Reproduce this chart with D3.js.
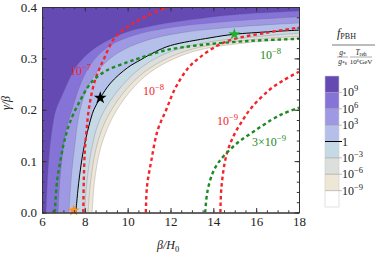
<!DOCTYPE html>
<html><head><meta charset="utf-8">
<script src="https://cdn.jsdelivr.net/npm/d3@7"></script>
<style>
html,body{margin:0;padding:0;background:#fff;}
svg{display:block;font-family:"Liberation Serif","DejaVu Serif",serif;}
</style></head>
<body><svg id="c" width="381" height="254"></svg>
<script>
// ---- data (x = β/H0, y = γ/β) ----
const xTicks = [6, 8, 10, 12, 14, 16, 18];
const yTicks = [0, 0.1, 0.2, 0.3, 0.4];
const levelLabels = ["10^9", "10^6", "10^3", "1", "10^-3", "10^-6", "10^-9"];
const bandColors = ["#654ab4", "#8673d8", "#9f99e4", "#b4c0ea", "#c6dae6", "#dcdfdb", "#efe7d5", "#ffffff"];

const contour1e9 = [[6.19,0],[6.25,0.06],[6.35,0.12],[6.5,0.17],[6.65,0.2],[6.95,0.229],[7.3,0.262],[7.7,0.29],[8.4,0.318],[9.8,0.349],[11,0.362],[12.9,0.375],[15,0.385],[18,0.392]];
const contour1e6 = [[6.75,0],[6.83,0.06],[6.98,0.12],[7.15,0.165],[7.4,0.2],[7.8,0.25],[8.3,0.29],[9.1,0.323],[10.3,0.345],[12,0.36],[15,0.373],[18,0.381]];
const contour1e3 = [[7.26,0],[7.35,0.06],[7.5,0.12],[7.78,0.2],[8.2,0.25],[8.8,0.285],[9.6,0.312],[10.8,0.334],[12.5,0.35],[15,0.361],[18,0.369]];
const contour1   = [[7.58,0],[7.72,0.06],[7.93,0.12],[8.2,0.17],[8.42,0.2],[8.71,0.222],[9.2,0.252],[10,0.282],[10.6,0.297],[11.3,0.313],[12,0.325],[13.85,0.340],[15,0.347],[18,0.355]];
const contour1em3 = [[7.98,0],[8.1,0.06],[8.3,0.12],[8.6,0.17],[9.0,0.205],[9.6,0.24],[10.5,0.278],[11.7,0.308],[13.4,0.329],[15.7,0.341],[18,0.349]];
const contour1em6 = [[8.15,0],[8.27,0.06],[8.5,0.12],[8.83,0.165],[9.25,0.2],[9.9,0.238],[10.8,0.274],[12,0.303],[13.4,0.322],[15.7,0.336],[18,0.343]];
const contour1em9 = [[8.34,0],[8.45,0.06],[8.7,0.12],[9.05,0.163],[9.5,0.2],[10.2,0.24],[11.05,0.273],[12.2,0.3],[13.4,0.317],[15.7,0.331],[18,0.338]];
const contours = [contour1e9, contour1e6, contour1e3, contour1, contour1em3, contour1em6, contour1em9];

const red1e7 = [[7.93,0],[7.95,0.06],[8.0,0.12],[8.08,0.16],[8.2,0.205],[8.48,0.258],[8.87,0.297],[9.33,0.336],[9.7,0.352],[10.25,0.368],[11.0,0.385],[11.9,0.4]];
const red1e8 = [[10.85,0],[10.9,0.05],[11.1,0.1],[11.4,0.16],[11.8,0.2],[12.2,0.24],[12.8,0.28],[13.4,0.303],[14.2,0.325],[14.9,0.337],[16.5,0.35],[18,0.36]];
const red1e9 = [[14.33,0],[14.38,0.05],[14.6,0.11],[14.9,0.145],[15.3,0.175],[15.8,0.205],[16.6,0.238],[17.3,0.258],[18,0.274]];
const green1e8 = [[6.6,0],[6.7,0.06],[6.9,0.11],[7.05,0.14],[7.3,0.175],[7.78,0.218],[8.32,0.254],[9.0,0.276],[9.96,0.292],[10.6,0.301],[11.8,0.316],[13.4,0.326],[15.7,0.334],[18,0.338]];
const green3e9 = [[13.62,0],[13.72,0.04],[13.95,0.075],[14.2,0.095],[14.6,0.115],[15.2,0.138],[15.9,0.158],[16.7,0.18],[17.3,0.193],[18,0.204]];

const starBlack = [8.72, 0.223];
const starGreen = [14.98, 0.347];
const starOrange = [7.48, 0.004];

// ---- layout ----
const svg = d3.select("#c");
const L = 42, R = 299, T = 7, B = 212.5;
const x = d3.scaleLinear().domain([6, 18]).range([L, R]);
const y = d3.scaleLinear().domain([0, 0.4]).range([B, T]);

svg.append("defs").append("clipPath").attr("id", "clip")
  .append("rect").attr("x", L).attr("y", T).attr("width", R - L).attr("height", B - T);

const plot = svg.append("g").attr("clip-path", "url(#clip)");
const line = d3.line().x(d => x(d[0])).y(d => y(d[1])).curve(d3.curveCatmullRom.alpha(0.5));

plot.append("rect").attr("x", L).attr("y", T).attr("width", R - L).attr("height", B - T).attr("fill", "#fff");

// bands: draw from lowest level to highest
for (let i = contours.length - 1; i >= 0; i--) {
  const c = contours[i];
  const last = c[c.length - 1];
  const d = line(c) + `L${x(last[0]) + 5},${y(last[1])}L${x(18) + 5},${y(0.4) - 5}L${x(6) - 5},${y(0.4) - 5}L${x(6) - 5},${y(0)}Z`;
  plot.append("path").attr("d", d).attr("fill", bandColors[i]).attr("stroke", "none");
}
contours.forEach((c, i) => {
  plot.append("path").attr("d", line(c)).attr("fill", "none")
    .attr("stroke", i === 3 ? "#000" : "rgba(90,90,120,0.35)")
    .attr("stroke-width", i === 3 ? 1 : 0.7);
});

const dash = "3.5,3";
[red1e7, red1e8, red1e9].forEach(c => plot.append("path").attr("d", line(c)).attr("fill", "none")
  .attr("stroke", "#f5232a").attr("stroke-width", 2.4).attr("stroke-dasharray", dash));
[green1e8, green3e9].forEach(c => plot.append("path").attr("d", line(c)).attr("fill", "none")
  .attr("stroke", "#1b8a22").attr("stroke-width", 2.4).attr("stroke-dasharray", dash));

// stars
const star = (p, size, col) => svg.append("path")
  .attr("d", d3.symbol(d3.symbolStar, size)())
  .attr("transform", `translate(${x(p[0])},${y(p[1])})`).attr("fill", col);
star(starBlack, 50, "#000");
star(starGreen, 44, "#22b02a");
star(starOrange, 44, "#ff9020");

// curve labels
function powLabel(g, xpx, ypx, base, exp, col, size) {
  const t = g.append("text").attr("x", xpx).attr("y", ypx).attr("fill", col).attr("font-size", size);
  t.append("tspan").text(base);
  t.append("tspan").attr("dy", -size * 0.4).attr("font-size", size * 0.72).text(exp);
  return t;
}
powLabel(svg, 70, 75, "10", "\u22127", "#f5232a", 12);
powLabel(svg, 143, 95, "10", "\u22128", "#f5232a", 12);
powLabel(svg, 217, 125, "10", "\u22129", "#f5232a", 12);
powLabel(svg, 260, 59, "10", "\u22128", "#1b8a22", 12);
powLabel(svg, 252, 146, "3\u00d710", "\u22129", "#1b8a22", 12);

// axes
const axColor = "#333";
function styleAxis(g) { g.select(".domain").attr("stroke", axColor).attr("stroke-width", 1); g.selectAll(".tick line").attr("stroke", axColor); }
const minorX = d3.range(6, 18.01, 0.5), minorY = d3.range(0, 0.401, 0.02);
[["b", B], ["t", T]].forEach(([s, pos]) => {
  const mk = s === "b" ? d3.axisBottom : d3.axisTop;
  svg.append("g").attr("transform", `translate(0,${pos})`)
    .call(mk(x).tickValues(minorX).tickSize(-2.2).tickSizeOuter(0).tickFormat(""))
    .call(styleAxis);
  const g = svg.append("g").attr("transform", `translate(0,${pos})`)
    .call(mk(x).tickValues(xTicks).tickSize(-4.5).tickSizeOuter(0).tickPadding(4).tickFormat(s === "b" ? d3.format("d") : ""))
    .call(styleAxis);
  g.selectAll("text").attr("font-size", 13).attr("fill", "#222").attr("font-family", "Liberation Serif");
});
[["l", L], ["r", R]].forEach(([s, pos]) => {
  const mk = s === "l" ? d3.axisLeft : d3.axisRight;
  svg.append("g").attr("transform", `translate(${pos},0)`)
    .call(mk(y).tickValues(minorY).tickSize(-2.2).tickSizeOuter(0).tickFormat(""))
    .call(styleAxis);
  const g = svg.append("g").attr("transform", `translate(${pos},0)`)
    .call(mk(y).tickValues(yTicks).tickSize(-4.5).tickSizeOuter(0).tickPadding(5).tickFormat(s === "l" ? d3.format(".1f") : ""))
    .call(styleAxis);
  g.selectAll("text").attr("font-size", 13).attr("fill", "#222").attr("font-family", "Liberation Serif");
});

// axis titles
svg.append("text").attr("transform", "translate(10,103) rotate(-90)").attr("text-anchor", "middle")
  .attr("font-size", 12).attr("font-style", "italic").attr("fill", "#222").text("\u03b3/\u03b2");
const xt = svg.append("text").attr("x", 157).attr("y", 249).attr("font-size", 12).attr("font-style", "italic").attr("fill", "#222");
xt.append("tspan").text("\u03b2/H");
xt.append("tspan").attr("dy", 3).attr("font-size", 8.5).attr("font-style", "normal").text("0");

// ---- legend ----
const lg = svg.append("g");
const ft = lg.append("text").attr("x", 337).attr("y", 37).attr("fill", "#222");
ft.append("tspan").attr("font-size", 12).attr("font-style", "italic").text("f");
ft.append("tspan").attr("font-size", 8).attr("dy", 2).text("PBH");
lg.append("line").attr("x1", 332).attr("x2", 375).attr("y1", 45).attr("y2", 45).attr("stroke", "#555").attr("stroke-width", 0.8);
const g1 = lg.append("text").attr("x", 342.5).attr("y", 54.5).attr("text-anchor", "middle").attr("font-size", 7.5).attr("fill", "#222");
g1.append("tspan").attr("font-style", "italic").text("g");
g1.append("tspan").attr("font-size", 5.5).attr("dy", 1.5).text("*");
lg.append("line").attr("x1", 337).attr("x2", 348).attr("y1", 57).attr("y2", 57).attr("stroke", "#555").attr("stroke-width", 0.5);
const g2 = lg.append("text").attr("x", 342.5).attr("y", 63.5).attr("text-anchor", "middle").attr("font-size", 7.5).attr("fill", "#222");
g2.append("tspan").attr("font-style", "italic").text("g");
g2.append("tspan").attr("font-size", 5.5).attr("dy", 1.5).text("*s");
const t1 = lg.append("text").attr("x", 361).attr("y", 54.5).attr("text-anchor", "middle").attr("font-size", 7.5).attr("fill", "#222");
t1.append("tspan").attr("font-style", "italic").text("T");
t1.append("tspan").attr("font-size", 5.5).attr("dy", 1.5).text("reh");
lg.append("line").attr("x1", 350).attr("x2", 372).attr("y1", 57).attr("y2", 57).attr("stroke", "#555").attr("stroke-width", 0.5);
const t2 = lg.append("text").attr("x", 361).attr("y", 64).attr("text-anchor", "middle").attr("font-size", 7).attr("fill", "#222");
t2.append("tspan").text("10");
t2.append("tspan").attr("font-size", 5).attr("dy", -2.5).text("6");
t2.append("tspan").attr("dy", 2.5).text("GeV");

const cb = d3.scaleBand().domain(d3.range(bandColors.length)).range([76, 207]);
const cbx = 325, cbw = 14;
bandColors.forEach((c, i) => lg.append("rect").attr("x", cbx).attr("y", cb(i)).attr("width", cbw).attr("height", cb.bandwidth()).attr("fill", c));
lg.append("rect").attr("x", cbx).attr("y", 76).attr("width", cbw).attr("height", 131).attr("fill", "none").attr("stroke", "#ccc").attr("stroke-width", 0.6);
levelLabels.forEach((lab, i) => {
  const yy = cb(i + 1);
  lg.append("line").attr("x1", cbx).attr("x2", cbx + cbw + 3).attr("y1", yy).attr("y2", yy)
    .attr("stroke", lab === "1" ? "#000" : "#999").attr("stroke-width", lab === "1" ? 1 : 0.6);
  const t = lg.append("text").attr("x", 342).attr("y", yy + 4).attr("font-size", 12).attr("fill", "#222");
  if (lab === "1") { t.text("1"); }
  else {
    const e = lab.split("^")[1].replace("-", "\u2212");
    t.append("tspan").text("10");
    t.append("tspan").attr("dy", -5).attr("font-size", 8.5).text(e);
  }
});
</script></body></html>
